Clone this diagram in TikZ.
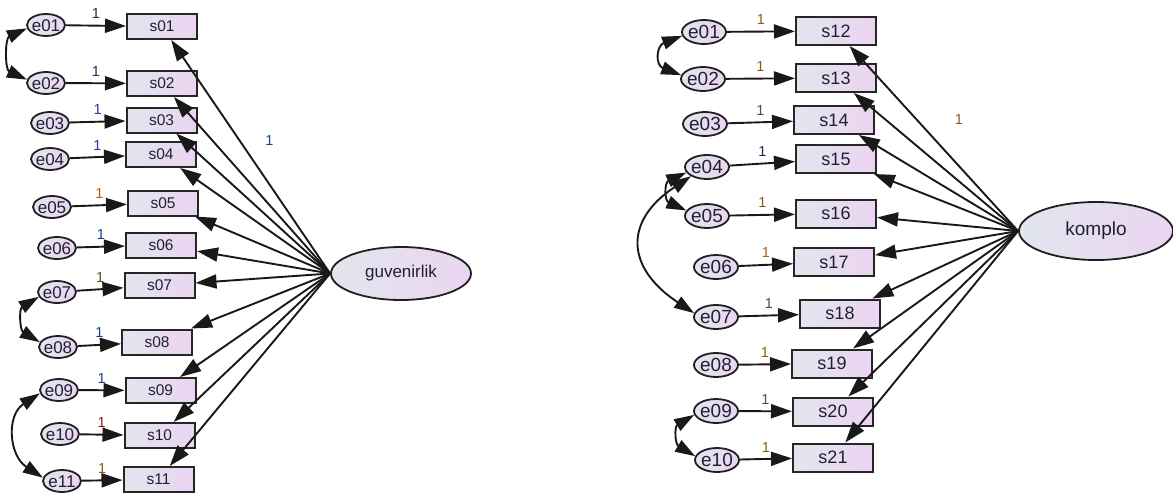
\documentclass[tikz,border=0pt]{standalone}
\usepackage{fontspec}
\setmainfont{Liberation Sans}
\usetikzlibrary{arrows.meta,shapes.geometric}
\definecolor{fillL}{HTML}{E2E6EE}
\definecolor{fillR}{HTML}{EBD4F1}
\definecolor{txt}{HTML}{202035}
\definecolor{cblue}{HTML}{1F3F8F}
\definecolor{cnavy}{HTML}{1C2A55}
\definecolor{corange}{HTML}{B0600F}
\definecolor{cbrown}{HTML}{8A5A1A}
\definecolor{cred}{HTML}{8B1A1A}
\definecolor{colive}{HTML}{5A5020}
\newcommand\zb[1]{\makebox[0pt]{#1}}
\begin{document}
\begin{tikzpicture}[x=1pt,y=-1pt,
  obsL/.style={rectangle,draw=black!85,line width=2pt,left color=fillL,right color=fillR,
    minimum width=70pt,minimum height=25pt,inner sep=0pt,text=txt,font=\fontsize{15.5}{15.5}\selectfont},
  obsR/.style={obsL,minimum width=80pt,minimum height=28pt,font=\fontsize{18}{18}\selectfont},
  errL/.style={ellipse,draw=black!88,line width=1.8pt,left color=fillL,right color=fillR,
    minimum width=38pt,minimum height=22pt,inner sep=0pt,text height=12pt,text depth=0pt,
    text=txt,font=\fontsize{17}{17}\selectfont},
  errR/.style={errL,minimum width=44pt,minimum height=24pt,text height=13pt,font=\fontsize{19}{19}\selectfont},
  lat/.style={ellipse,draw=black!88,line width=1.8pt,left color=fillL,right color=fillR,
    inner sep=0pt,text=txt},
  path/.style={line width=1.9pt,draw=black!90,-{Triangle[length=21pt,width=14pt]}},
  cov/.style={line width=1.9pt,draw=black!90,{Triangle[length=20pt,width=13pt]}-{Triangle[length=20pt,width=13pt]}},
  lbl/.style={inner sep=1pt,font=\fontsize{14.5}{14.5}\selectfont}
]
\useasboundingbox (0,0) rectangle (1173,501);

% ---------- left model ----------
\node[lat,minimum width=140pt,minimum height=53pt,font=\fontsize{17}{17}\selectfont] (G) at (401,273.5) {guvenirlik};

\node[obsL] (s01) at (162,26.5) {s01};
\node[obsL] (s02) at (162,83.5) {s02};
\node[obsL] (s03) at (161.5,120) {s03};
\node[obsL] (s04) at (161,154.5) {s04};
\node[obsL] (s05) at (163,203) {s05};
\node[obsL] (s06) at (161,245) {s06};
\node[obsL] (s07) at (159.5,285.5) {s07};
\node[obsL] (s08) at (157,342) {s08};
\node[obsL] (s09) at (160.5,390.5) {s09};
\node[obsL] (s10) at (159.5,435.5) {s10};
\node[obsL] (s11) at (158.5,479.5) {s11};

\node[errL] (le01) at (46,25) {\zb{e01}};
\node[errL] (le02) at (46,83) {\zb{e02}};
\node[errL] (le03) at (50,123) {\zb{e03}};
\node[errL] (le04) at (50,159) {\zb{e04}};
\node[errL] (le05) at (52,207) {\zb{e05}};
\node[errL] (le06) at (57,248) {\zb{e06}};
\node[errL] (le07) at (57,292) {\zb{e07}};
\node[errL] (le08) at (58,347) {\zb{e08}};
\node[errL] (le09) at (59,390) {\zb{e09}};
\node[errL] (le10) at (60,434) {\zb{e10}};
\node[errL] (le11) at (62,481) {\zb{e11}};

\draw[path] (G.west) -- (s01) node[lbl,pos=0.57,right=24pt,text=cblue] {1};
\foreach \s in {s02,s03,s04,s05,s06,s07,s08,s09,s10,s11}
  \draw[path] (G.west) -- (\s);

\draw[path] (le01) -- (s01) node[lbl,midway,above=5pt,text=cnavy] {1};
\draw[path] (le02) -- (s02) node[lbl,midway,above=5pt,text=cnavy] {1};
\draw[path] (le03) -- (s03) node[lbl,midway,above=5pt,text=cblue] {1};
\draw[path] (le04) -- (s04) node[lbl,midway,above=5pt,text=cblue] {1};
\draw[path] (le05) -- (s05) node[lbl,midway,above=5pt,text=corange] {1};
\draw[path] (le06) -- (s06) node[lbl,midway,above=5pt,text=cblue] {1};
\draw[path] (le07) -- (s07) node[lbl,midway,above=5pt,text=colive] {1};
\draw[path] (le08) -- (s08) node[lbl,midway,above=5pt,text=cblue] {1};
\draw[path] (le09) -- (s09) node[lbl,midway,above=5pt,text=cblue] {1};
\draw[path] (le10) -- (s10) node[lbl,midway,above=5pt,text=cred] {1};
\draw[path] (le11) -- (s11) node[lbl,midway,above=5pt,text=cbrown] {1};

\draw[cov] (le01.190) .. controls +(-22,10) and +(-22,-10) .. (le02.170);
\draw[cov] (le07.195) .. controls +(-20,12) and +(-20,-12) .. (le08.165);
\draw[cov] (le09.190) .. controls +(-34,22) and +(-34,-22) .. (le11.170);

% ---------- right model ----------
\node[lat,minimum width=154pt,minimum height=58pt,font=\fontsize{19}{19}\selectfont] (K) at (1096,231) {komplo};

\node[obsR] (s12) at (836,31) {s12};
\node[obsR] (s13) at (836,78) {s13};
\node[obsR] (s14) at (834,120) {s14};
\node[obsR] (s15) at (836,159) {s15};
\node[obsR] (s16) at (836,213.5) {s16};
\node[obsR] (s17) at (834,262) {s17};
\node[obsR] (s18) at (840,313.5) {s18};
\node[obsR] (s19) at (832,363.5) {s19};
\node[obsR] (s20) at (833,411.5) {s20};
\node[obsR] (s21) at (833,457.5) {s21};

\node[errR] (re01) at (704,32) {\zb{e01}};
\node[errR] (re02) at (703,79) {\zb{e02}};
\node[errR] (re03) at (705,124) {\zb{e03}};
\node[errR] (re04) at (707,167) {\zb{e04}};
\node[errR] (re05) at (707,216) {\zb{e05}};
\node[errR] (re06) at (716,267) {\zb{e06}};
\node[errR] (re07) at (716,317) {\zb{e07}};
\node[errR] (re08) at (716,365) {\zb{e08}};
\node[errR] (re09) at (716,411) {\zb{e09}};
\node[errR] (re10) at (717,460) {\zb{e10}};

\draw[path] (K.west) -- (s12) node[lbl,pos=0.6,right=36pt,text=cbrown] {1};
\foreach \s in {s13,s14,s15,s16,s17,s18,s19,s20,s21}
  \draw[path] (K.west) -- (\s);

\draw[path] (re01) -- (s12) node[lbl,midway,above=5pt,text=cbrown] {1};
\draw[path] (re02) -- (s13) node[lbl,midway,above=5pt,text=cbrown] {1};
\draw[path] (re03) -- (s14) node[lbl,midway,above=5pt,text=colive] {1};
\draw[path] (re04) -- (s15) node[lbl,midway,above=5pt,text=cnavy] {1};
\draw[path] (re05) -- (s16) node[lbl,midway,above=5pt,text=cbrown] {1};
\draw[path] (re06) -- (s17) node[lbl,midway,above=5pt,text=corange] {1};
\draw[path] (re07) -- (s18) node[lbl,midway,above=5pt,text=colive] {1};
\draw[path] (re08) -- (s19) node[lbl,midway,above=5pt,text=cbrown] {1};
\draw[path] (re09) -- (s20) node[lbl,midway,above=5pt,text=colive] {1};
\draw[path] (re10) -- (s21) node[lbl,midway,above=5pt,text=cbrown] {1};

\draw[cov] (re01.190) .. controls +(-26,10) and +(-26,-10) .. (re02.170);
\draw[cov] (re04.195) .. controls +(-22,10) and +(-22,-10) .. (re05.165);
\draw[cov] (re04.210) .. controls +(-68,45) and +(-68,-45) .. (re07.170);
\draw[cov] (re09.190) .. controls +(-20,12) and +(-20,-12) .. (re10.170);
\end{tikzpicture}
\end{document}
